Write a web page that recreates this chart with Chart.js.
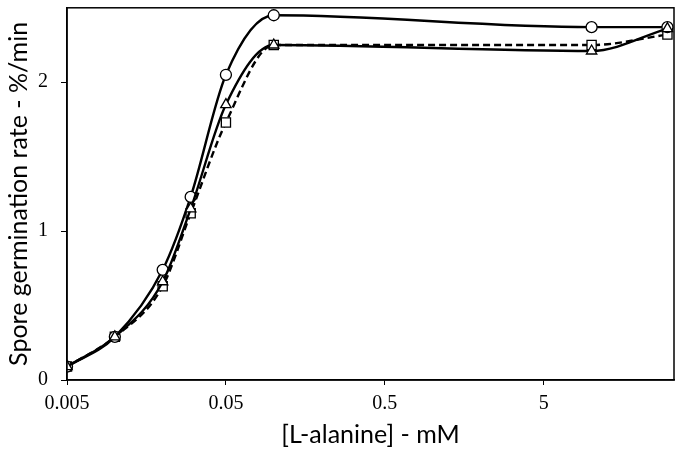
<!DOCTYPE html>
<html>
<head>
<meta charset="utf-8">
<script src="https://cdn.jsdelivr.net/npm/chart.js@4"></script>
<style>
  html, body { margin: 0; padding: 0; background: #fff; }
  #wrap { width: 683px; height: 454px; }
</style>
</head>
<body>
<div id="wrap"><canvas id="germChart"></canvas></div>
<script>
// L-alanine concentrations (mM)
const concentrations = [0.005, 0.01, 0.02, 0.03, 0.05, 0.1, 10, 30];
// germination rates (%/min) for the three series
const circleRates = [0.09, 0.29, 0.74, 1.23, 2.05, 2.45, 2.37, 2.37];
const triangleRates = [0.09, 0.29, 0.66, 1.15, 1.85, 2.25, 2.21, 2.36];
const squareRates = [0.09, 0.29, 0.63, 1.12, 1.73, 2.25, 2.25, 2.32];
const xTicks = [0.005, 0.05, 0.5, 5];
const yTicks = [0, 1, 2];

function toPoints(values) {
    return concentrations.map((c, i) => ({ x: c, y: values[i] }));
}

// Draw the box around the plot area
const frameBox = {
    id: 'frameBox',
    afterDatasetsDraw(chart) {
        const a = chart.chartArea;
        const ctx = chart.ctx;
        ctx.save();
        ctx.strokeStyle = '#000';
        ctx.lineWidth = 1.5;
        ctx.strokeRect(a.left, a.top, a.right - a.left, a.bottom - a.top);
        ctx.restore();
    }
};

const baseSet = {
    borderColor: '#000',
    borderWidth: 2.4,
    pointBackgroundColor: '#fff',
    pointBorderColor: '#000',
    pointBorderWidth: 1.3,
    pointRadius: 6,
    cubicInterpolationMode: 'monotone',
    fill: false
};

const ctx = document.getElementById('germChart');
new Chart(ctx, {
    type: 'line',
    data: {
        datasets: [
            Object.assign({}, baseSet, {
                label: 'triangle',
                data: toPoints(triangleRates),
                pointStyle: 'triangle',
                pointRadius: 6
            }),
            Object.assign({}, baseSet, {
                label: 'circle',
                data: toPoints(circleRates),
                pointStyle: 'circle',
                pointRadius: 5.5
            }),
            Object.assign({}, baseSet, {
                label: 'square',
                data: toPoints(squareRates),
                pointStyle: 'rect',
                pointRadius: 6.5,
                borderDash: [7, 4]
            })
        ]
    },
    options: {
        responsive: true,
        maintainAspectRatio: false,
        animation: false,
        layout: { padding: { top: -2, right: 9, left: 0, bottom: 0 } },
        plugins: {
            legend: { display: false },
            tooltip: { enabled: false }
        },
        scales: {
            x: {
                type: 'logarithmic',
                min: 0.005,
                max: 33,
                afterBuildTicks: axis => {
                    axis.ticks = xTicks.map(v => ({ value: v }));
                },
                afterFit: axis => {
                    axis.height = 74;
                    axis.paddingLeft = 0;
                    axis.paddingRight = 0;
                },
                ticks: {
                    color: '#000',
                    font: { family: 'Liberation Serif', size: 20 },
                    padding: 7,
                    maxRotation: 0,
                    autoSkip: false,
                    callback: v => String(v)
                },
                grid: { drawOnChartArea: false, drawTicks: true, tickLength: 5, color: '#000' },
                border: { display: true, color: '#000', width: 1.5 },
                title: {
                    display: true,
                    text: '[L-alanine] - mM',
                    color: '#000',
                    font: { family: 'Lato', size: 25 },
                    padding: { top: 2 }
                }
            },
            y: {
                min: 0,
                max: 2.5,
                afterBuildTicks: axis => {
                    axis.ticks = yTicks.map(v => ({ value: v }));
                },
                afterFit: axis => {
                    axis.width = 67;
                    axis.paddingTop = 0;
                    axis.paddingBottom = 0;
                },
                ticks: {
                    color: '#000',
                    font: { family: 'Liberation Serif', size: 20 },
                    padding: 13
                },
                grid: { drawOnChartArea: false, drawTicks: true, tickLength: 6, color: '#000' },
                border: { display: true, color: '#000', width: 1.5 },
                title: {
                    display: true,
                    text: 'Spore germination rate - %/min',
                    color: '#000',
                    font: { family: 'Lato', size: 25 },
                    padding: { bottom: 0 }
                }
            }
        }
    },
    plugins: [frameBox]
});
</script>
</body>
</html>
